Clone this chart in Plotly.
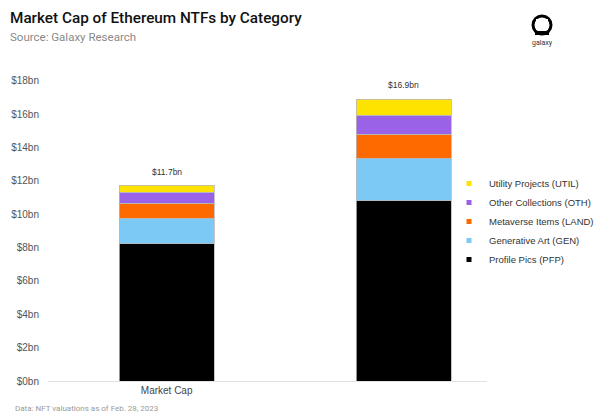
import plotly.graph_objects as go

categories = ["Market Cap", " "]
series_names = ["Profile Pics (PFP)", "Generative Art (GEN)", "Metaverse Items (LAND)",
                "Other Collections (OTH)", "Utility Projects (UTIL)"]
pfp = [8.22, 10.80]
gen = [1.54, 2.56]
land = [0.90, 1.44]
oth = [0.64, 1.12]
util = [0.42, 0.98]
totals = [11.7, 16.9]
tick_vals = [0, 2, 4, 6, 8, 10, 12, 14, 16, 18]
tick_text = ["$%dbn" % v for v in tick_vals]

colors = ["#000000", "#7CC9F6", "#FF6A00", "#9A62E6", "#FFE300"]
values = [pfp, gen, land, oth, util]

L, R, T, B = 48, 113, 64, 35
PW, PH = 600 - L - R, 416 - T - B

fig = go.Figure()
for name, vals, col in zip(series_names, values, colors):
    fig.add_trace(go.Bar(x=categories, y=vals, name=name, marker_color=col,
                         marker_line=dict(width=0.8, color="#b8b8b8"), showlegend=False))
for name, col in zip(series_names, colors):
    fig.add_trace(go.Scatter(x=[None], y=[None], mode="markers", name=name,
                             marker=dict(symbol="square", size=5, color=col)))

for c, t in zip(categories, totals):
    fig.add_annotation(x=c, y=t, text="$%.1fbn" % t, showarrow=False, yshift=14,
                       font=dict(size=8.5, color="#333", family="Liberation Sans"))

fig.update_layout(
    width=600, height=416,
    margin=dict(l=L, r=R, t=T, b=B, autoexpand=False),
    paper_bgcolor="white", plot_bgcolor="white",
    barmode="stack", bargap=0.6,
    font=dict(family="Liberation Sans", color="#555"),
    legend=dict(xref="container", yref="container", x=449 / 600, y=1 - 169 / 416,
                xanchor="left", yanchor="top", traceorder="reversed",
                font=dict(size=9.5, color="#333"), bgcolor="rgba(0,0,0,0)",
                itemsizing="trace", tracegroupgap=0),
    xaxis=dict(range=[-0.5, 1.35], showline=True, linecolor="#e2e2e2", linewidth=1,
               showgrid=False, ticks="", tickfont=dict(size=10, color="#444")),
    yaxis=dict(range=[0, 19], tickvals=tick_vals, ticktext=tick_text, showgrid=False,
               zeroline=False, tickfont=dict(size=10, color="#555"), ticklabelstandoff=8),
)

def px(x):
    return (x - L) / PW

def py(y):
    return (416 - B - y) / PH

def ann(xp, yp, text, **kw):
    fig.add_annotation(xref="paper", yref="paper", x=px(xp), y=py(yp),
                       showarrow=False, text=text, **kw)

ann(8, 18, "Market Cap of Ethereum NTFs by Category", xanchor="left", yanchor="middle",
    font=dict(family="Roboto", size=15.3, color="#111", weight=500))
ann(8, 37, "Source: Galaxy Research", xanchor="left", yanchor="middle",
    font=dict(family="Roboto", size=11.5, color="#8a8a8a"))
ann(13, 409, "Data: NFT valuations as of Feb. 28, 2023", xanchor="left", yanchor="middle",
    font=dict(family="Roboto", size=8, color="#9a9a9a"))
ann(542, 43, "galaxy", xanchor="center", yanchor="middle",
    font=dict(family="Roboto", size=7, color="#333"))

# galaxy logo
cx, cy, r = px(542), py(25), 9
common = dict(type="rect", xref="paper", yref="paper", xsizemode="pixel", ysizemode="pixel",
              xanchor=cx, yanchor=cy)
fig.add_shape(type="circle", xref="paper", yref="paper", xsizemode="pixel", ysizemode="pixel",
              xanchor=cx, yanchor=cy, x0=-r, x1=r, y0=-r, y1=r,
              line=dict(color="black", width=3))
fig.add_shape(**common, x0=-7, x1=7, y0=-10, y1=-6, fillcolor="black", line=dict(width=0))
fig.add_shape(**common, x0=-6, x1=6, y0=-5, y1=6, fillcolor="white", line=dict(width=0))

fig.write_html("out.html")
